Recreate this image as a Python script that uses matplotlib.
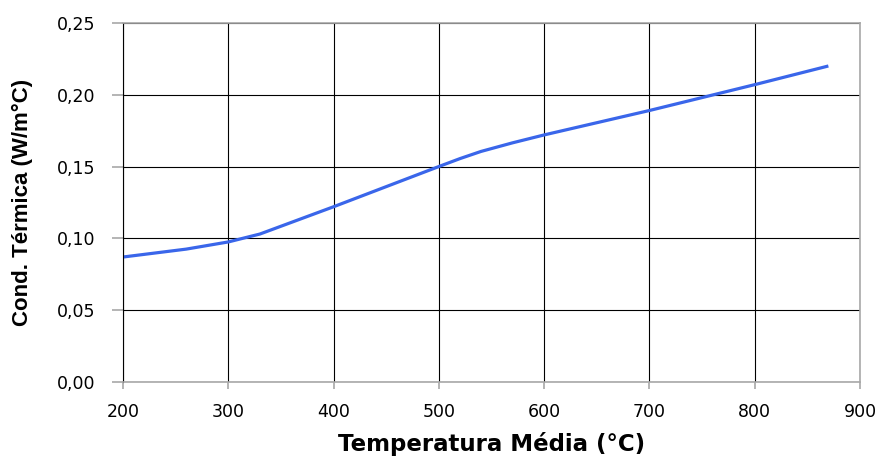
import matplotlib.pyplot as plt
from matplotlib.ticker import FuncFormatter

temps = [200, 260, 300, 330, 400, 500, 520, 540, 570, 600, 700, 800, 870]
cond = [0.087, 0.0925, 0.0975, 0.103, 0.122, 0.150, 0.1555, 0.1605, 0.1665, 0.172, 0.189, 0.207, 0.220]
xticks = [200, 300, 400, 500, 600, 700, 800, 900]
yticks = [0.00, 0.05, 0.10, 0.15, 0.20, 0.25]

fig = plt.figure(figsize=(8.82, 4.58), dpi=100)
ax = fig.add_axes([0.1395, 0.166, 0.8355, 0.784])

ax.plot(temps, cond, color='#3a66ea', lw=2.3, solid_capstyle='butt')

ax.set_xlim(200, 900)
ax.set_ylim(0, 0.25)
ax.set_xticks(xticks)
ax.set_yticks(yticks)
ax.yaxis.set_major_formatter(FuncFormatter(lambda v, p: f'{v:.2f}'.replace('.', ',')))
ax.grid(True, color='black', lw=0.8)

for s in ax.spines.values():
    s.set_color('#a8a8a8')
    s.set_linewidth(1.2)
ax.spines['left'].set_color('black')
ax.spines['left'].set_linewidth(0.8)

ax.tick_params(axis='x', direction='out', length=5, color='#a8a8a8', width=1.2,
               labelsize=12.5, pad=10)
ax.tick_params(axis='y', direction='out', length=8, color='#a8a8a8', width=1.2,
               labelsize=12.5, pad=12)

ax.set_xlabel('Temperatura Média (°C)', fontsize=16.5, fontweight='bold',
              family='DejaVu Sans', labelpad=8)
ax.set_ylabel('Cond. Térmica (W/m°C)', fontsize=16, fontweight='bold',
              family='Liberation Sans', labelpad=17)

fig.savefig('out.png', dpi=100)
